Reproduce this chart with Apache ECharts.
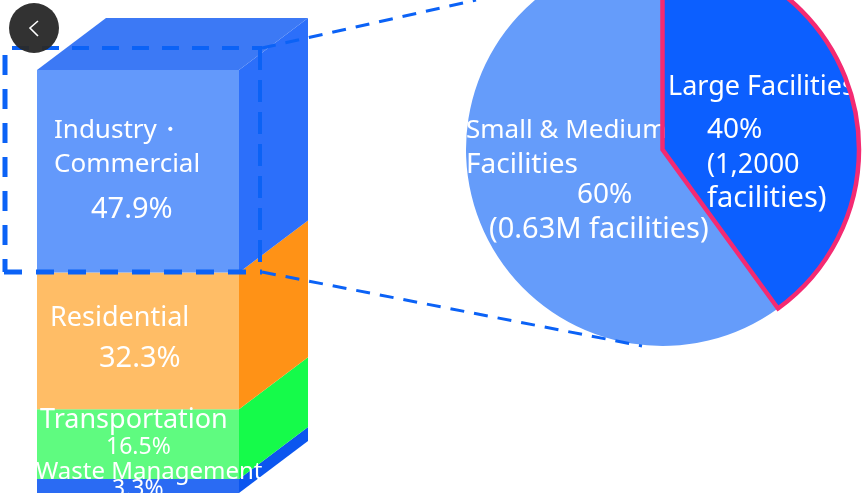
<!DOCTYPE html>
<html>
<head>
<meta charset="utf-8">
<style>
  html, body { margin: 0; padding: 0; background: #fff; }
  #chart { width: 865px; height: 494px; }
</style>
<script src="https://cdn.jsdelivr.net/npm/echarts@6/dist/echarts.min.js"></script>
</head>
<body>
<div id="chart"></div>
<script>
// bottom to top
const sectors = ["Waste Management", "Transportation", "Residential", "Industry・Commercial"];
const sectorShares = [3.3, 16.5, 32.3, 47.9];
const frontColors = ["#2a6bf3", "#5ffb80", "#ffbd66", "#6399fb"];
const sideColors = ["#0b56ef", "#15fb4a", "#ff9216", "#2c6ffa"];

const facilityTypes = ["Small & Medium Facilities", "Large Facilities"];
const facilityShares = [60, 40];

const FONT = '"Noto Sans", sans-serif';
const DEPTH_X = 69;
const DEPTH_Y = 52;
const DASH = "#0b62f6";
const PIE_CENTER = [662.5, 149.5];
const PIE_RADIUS = 196.5;
const PIE_START = -54;

// start / end of each stacked segment, for the side faces
let running = 0;
const segments = sectorShares.map((value, i) => {
  const row = [0, running, running + value, i];
  running += value;
  return row;
});

function sideFace(params, api) {
  const low = api.coord([0, api.value(1)]);
  const high = api.coord([0, api.value(2)]);
  const half = api.size([1, 0])[0] / 2;
  const x = low[0] + half;
  return {
    type: "polygon",
    shape: {
      points: [
        [x, low[1]],
        [x + DEPTH_X, low[1] - DEPTH_Y],
        [x + DEPTH_X, high[1] - DEPTH_Y],
        [x, high[1]]
      ]
    },
    style: { fill: sideColors[api.value(3)] }
  };
}

function topFace(params, api) {
  const top = api.coord([0, api.value(2)]);
  const half = api.size([1, 0])[0] / 2;
  return {
    type: "polygon",
    shape: {
      points: [
        [top[0] - half, top[1]],
        [top[0] + half, top[1]],
        [top[0] + half + DEPTH_X, top[1] - DEPTH_Y],
        [top[0] - half + DEPTH_X, top[1] - DEPTH_Y]
      ]
    },
    style: { fill: "#3c79f5" }
  };
}

function label(text, x, y, size) {
  return {
    type: "text",
    x: x,
    y: y + 2,
    z: 20,
    silent: true,
    style: { text: text, fill: "#fff", font: `${size}px ${FONT}`, textAlign: "left", textVerticalAlign: "middle" }
  };
}

function dash(x1, y1, x2, y2, width, pattern) {
  return {
    type: "line",
    z: 15,
    silent: true,
    shape: { x1, y1, x2, y2 },
    style: { stroke: DASH, lineWidth: width, lineDash: pattern }
  };
}

const chart = echarts.init(document.getElementById("chart"), null, { renderer: "canvas" });

chart.setOption({
  animation: false,
  backgroundColor: "#fff",
  grid: { left: 37, width: 202, top: 70, height: 423 },
  xAxis: { type: "category", data: ["Share"], show: false },
  yAxis: { type: "value", min: 0, max: 100, show: false },
  series: [
    ...sectors.map((name, i) => ({
      name: name,
      type: "bar",
      stack: "total",
      barWidth: "100%",
      data: [sectorShares[i]],
      itemStyle: { color: frontColors[i] }
    })),
    { type: "custom", renderItem: sideFace, data: segments, silent: true },
    { type: "custom", renderItem: topFace, data: [segments[3]], silent: true },
    {
      type: "pie",
      z: 5,
      center: PIE_CENTER,
      radius: PIE_RADIUS,
      startAngle: PIE_START,
      silent: true,
      label: { show: false },
      data: [
        { name: facilityTypes[0], value: facilityShares[0], itemStyle: { color: "#659cfa" } },
        { name: facilityTypes[1], value: facilityShares[1], itemStyle: { color: "#0c5fff" } }
      ]
    },
    // red outline goes over the labels, so the long label ends at the edge
    {
      type: "pie",
      z: 30,
      center: PIE_CENTER,
      radius: PIE_RADIUS,
      startAngle: PIE_START,
      silent: true,
      label: { show: false },
      data: [
        { name: facilityTypes[0], value: facilityShares[0], itemStyle: { color: "transparent", borderWidth: 0 } },
        { name: facilityTypes[1], value: facilityShares[1], itemStyle: { color: "transparent", borderColor: "#f42a72", borderWidth: 4.5, borderJoin: "miter" } }
      ]
    }
  ],
  graphic: [
    // zoom-out frame and connector lines
    dash(12, 48, 262, 48, 4, [17, 13]),
    dash(5, 55, 5, 272, 5, [20, 14]),
    dash(4, 272, 262, 272, 5, [18, 14]),
    dash(260, 48, 260, 272, 4, [22, 10]),
    dash(262, 48, 476, 0, 3, [14, 10]),
    dash(262, 272, 642, 346, 3, [14, 10]),

    // back button
    { type: "circle", z: 40, silent: true, shape: { cx: 34, cy: 28, r: 25 }, style: { fill: "#2a2a2a", opacity: 0.96 } },
    { type: "polyline", z: 41, silent: true, shape: { points: [[38, 21], [30, 28], [38, 36]] }, style: { stroke: "#fff", lineWidth: 1.6, fill: null } },

    // bar labels
    label("Industry・", 54, 129, 26),
    label("Commercial", 54, 163, 26),
    label("47.9%", 91, 208, 29),
    label("Residential", 50, 316, 27),
    label("32.3%", 99, 357, 29),
    label("Transportation", 40, 418, 27),
    label("16.5%", 106, 445, 23),
    label("Waste Management", 36, 470, 24),
    label("3.3%", 112, 487, 23),

    // pie labels
    label("Small & Medium", 466, 129, 26),
    label("Facilities", 466, 163, 28),
    label("60%", 577, 193, 28),
    label("(0.63M facilities)", 489, 228, 29),
    label("Large Facilities", 668, 85, 27),
    label("40%", 707, 128, 28),
    label("(1,2000", 707, 163, 27),
    label("facilities)", 707, 197, 29)
  ]
});
</script>
</body>
</html>
